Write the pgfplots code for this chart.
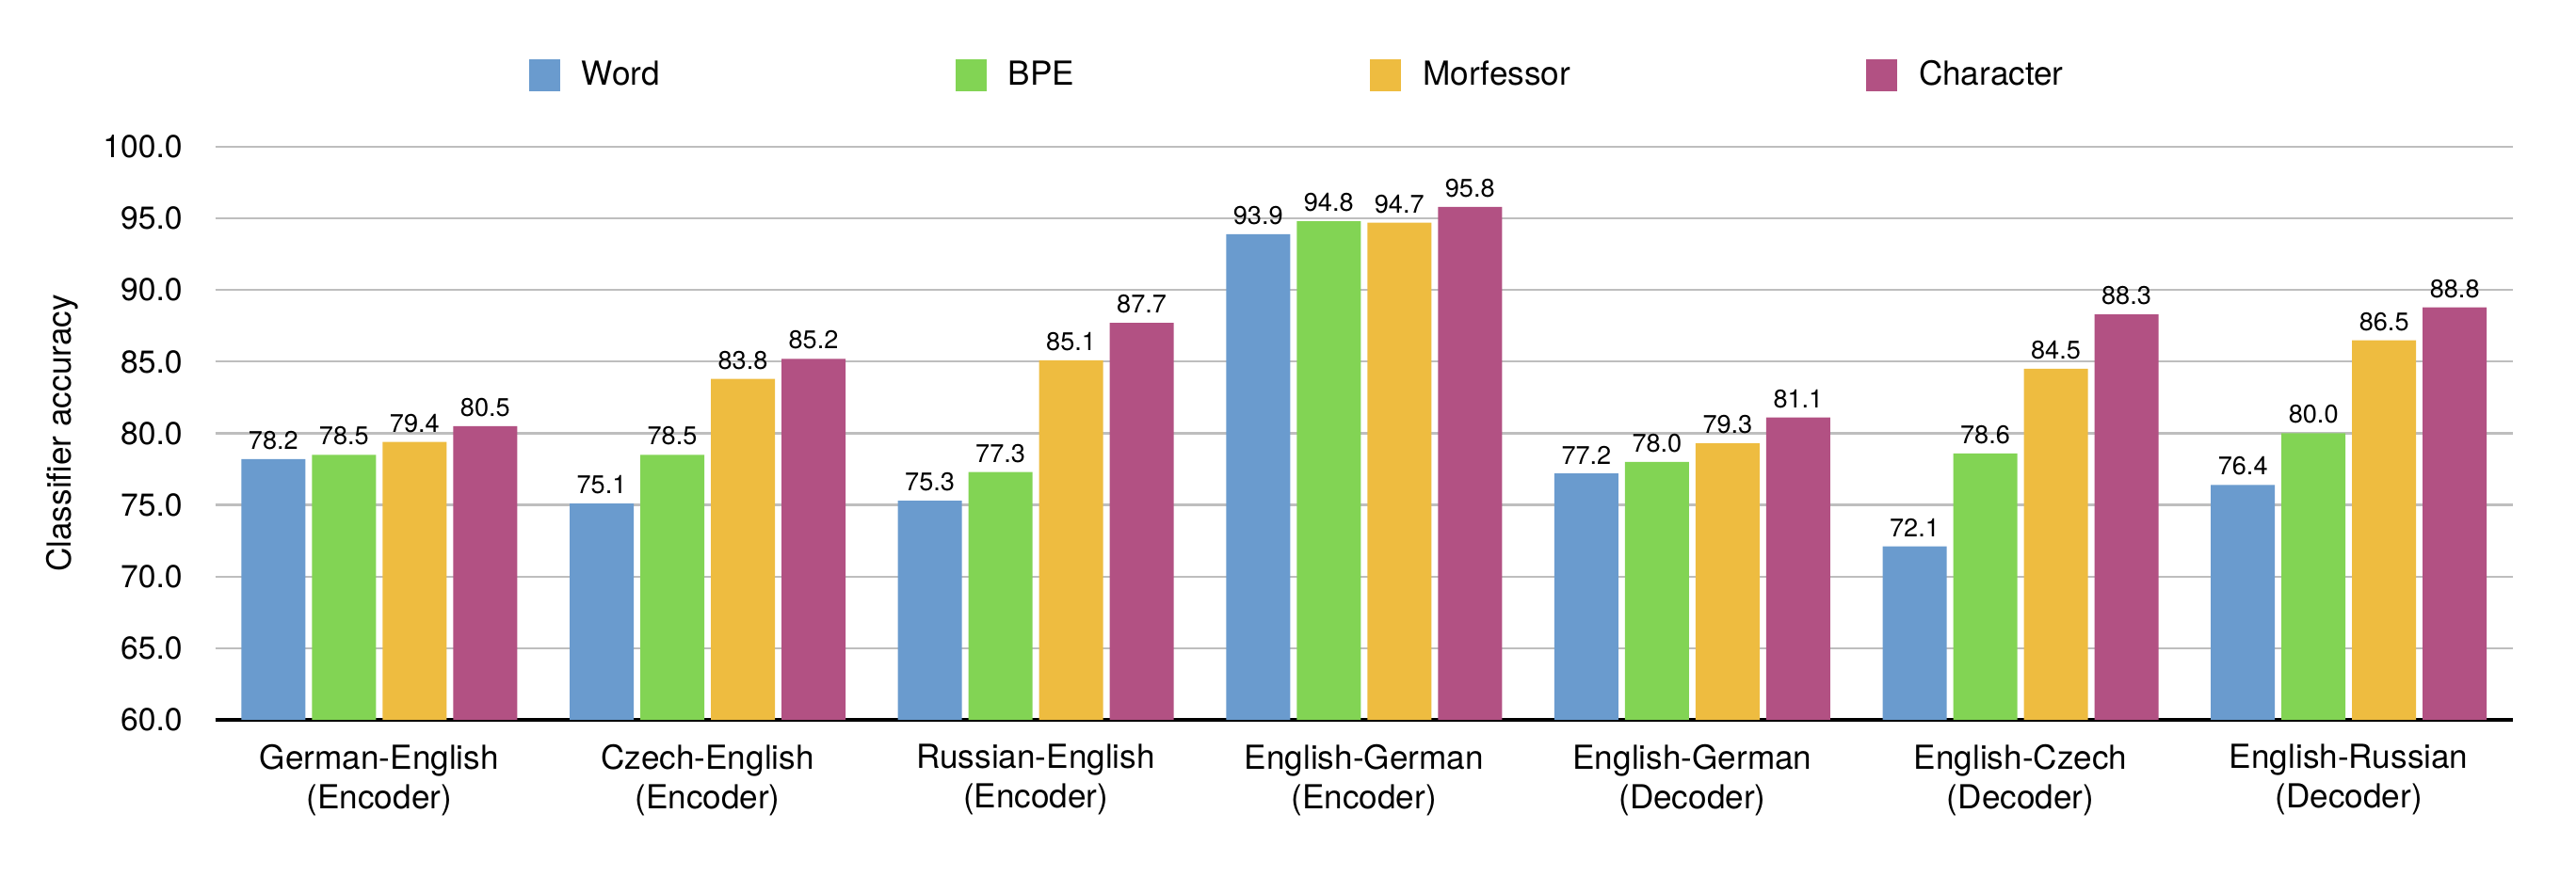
\documentclass[border=0pt]{standalone}
\usepackage{pgfplots}
\pgfplotsset{compat=1.18}
\usetikzlibrary{calc}
\usepackage{fontspec}
\setmainfont{TeX Gyre Heros}
\definecolor{wordc}{RGB}{106,155,206}
\definecolor{bpec}{RGB}{130,212,84}
\definecolor{morfc}{RGB}{238,188,64}
\definecolor{charc}{RGB}{178,81,131}
\definecolor{gridc}{RGB}{190,190,190}
\begin{document}
\begin{tikzpicture}
\begin{axis}[
  scale only axis,
  width=854.2pt, height=213.15pt,
  ybar=2.45pt, bar width=23.8pt,
  xmin=-0.5, xmax=6.5,
  ymin=60, ymax=100,
  ytick={60,65,70,75,80,85,90,95,100},
  xtick={0,1,2,3,4,5,6},
  xticklabels={{German-English\\(Encoder)},{Czech-English\\(Encoder)},{Russian-English\\(Encoder)},{English-German\\(Encoder)},{English-German\\(Decoder)},{English-Czech\\(Decoder)},{English-Russian\\(Decoder)}},
  /pgf/number format/assume math mode=true,
  yticklabel={\pgfmathprintnumber[fixed,fixed zerofill,precision=1]{\tick}},
  axis x line*=bottom, axis y line*=left,
  x axis line style={line width=1.2pt, black},
  y axis line style={draw=none},
  major tick length=0pt,
  tick style={draw=none},
  ymajorgrids,
  grid style={gridc, line width=0.8pt},
  xticklabel style={font=\fontsize{12.3pt}{14.6pt}\selectfont, align=center, inner sep=0pt, yshift=-9pt},
  yticklabel style={font=\fontsize{11.8pt}{14pt}\selectfont, inner sep=0pt, xshift=-12pt},
  ylabel={Classifier accuracy},
  ylabel style={font=\fontsize{12.3pt}{14pt}\selectfont, at={(axis description cs:-0.0666,0.5)}, anchor=center},
  nodes near coords={\pgfmathprintnumber[fixed,fixed zerofill,precision=1]{\pgfplotspointmeta}},
  every node near coord/.append style={font=\fontsize{9.5pt}{11pt}\selectfont, black},
  legend columns=4,
  legend image code/.code={\fill[#1] (0pt,-5.8pt) rectangle (11.55pt,5.8pt);},
  legend style={draw=none, at={(axis description cs:0.13665,1.1248)}, anchor=west,
    inner sep=0pt, outer sep=0pt,
    font=\fontsize{12.3pt}{14pt}\selectfont,
    nodes={inner sep=0pt},
    /tikz/every odd column/.append style={column sep=8pt},
    /tikz/every even column/.append style={column sep=110pt}},
  clip=false,
]
\addplot[fill=wordc, draw=none] coordinates {(0,78.2) (1,75.1) (2,75.3) (3,93.9) (4,77.2) (5,72.1) (6,76.4)};
\addplot[fill=bpec, draw=none] coordinates {(0,78.5) (1,78.5) (2,77.3) (3,94.8) (4,78.0) (5,78.6) (6,80.0)};
\addplot[fill=morfc, draw=none] coordinates {(0,79.4) (1,83.8) (2,85.1) (3,94.7) (4,79.3) (5,84.5) (6,86.5)};
\addplot[fill=charc, draw=none] coordinates {(0,80.5) (1,85.2) (2,87.7) (3,95.8) (4,81.1) (5,88.3) (6,88.8)};
\legend{Word,BPE,Morfessor,Character}
\end{axis}
\pgfresetboundingbox
\useasboundingbox ($(current axis.south west)+(-80pt,-58.45pt)$) rectangle ($(current axis.north east)+(23.45pt,54.6pt)$);
\end{tikzpicture}
\end{document}
